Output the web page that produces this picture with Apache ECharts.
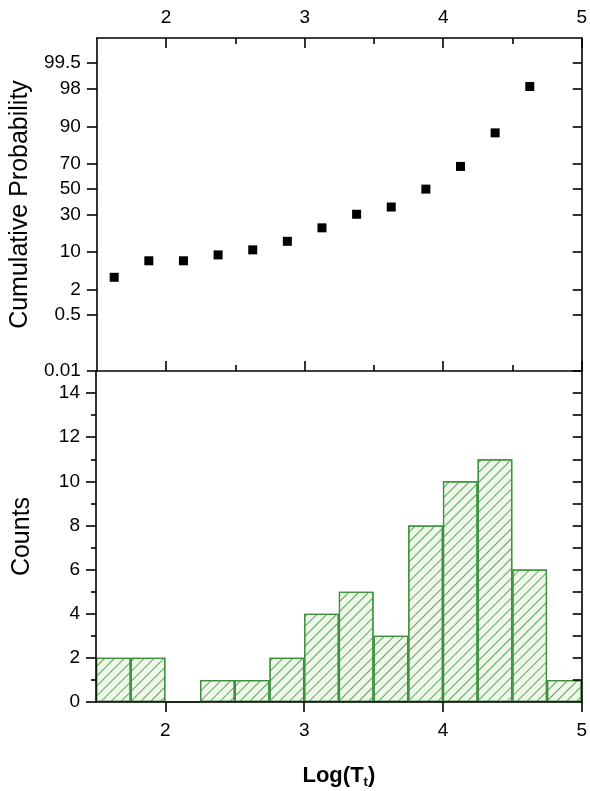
<!DOCTYPE html>
<html>
<head>
<meta charset="utf-8">
<script src="https://cdn.jsdelivr.net/npm/echarts@6/dist/echarts.min.js"></script>
<style>html,body{margin:0;padding:0;background:#fff}#c{width:590px;height:791px}</style>
</head>
<body>
<div id="c"></div>
<script>
// ---- data ----
const binStarts = [1.5, 1.75, 2, 2.25, 2.5, 2.75, 3, 3.25, 3.5, 3.75, 4, 4.25, 4.5, 4.75];
const counts = [2, 2, 0, 1, 1, 2, 4, 5, 3, 8, 10, 11, 6, 1];
const probX = [1.625, 1.875, 2.125, 2.375, 2.625, 2.875, 3.125, 3.375, 3.625, 3.875, 4.125, 4.375, 4.625];
const probPct = [3.57, 7.14, 7.14, 8.93, 10.71, 14.29, 21.43, 30.36, 35.71, 50.0, 67.86, 87.5, 98.21];
const probTickLabels = ['0.01', '0.5', '2', '10', '30', '50', '70', '90', '98', '99.5'];
const xTickLabels = [2, 3, 4, 5];
const xMinorTicks = [2.5, 3.5, 4.5];
const countTicks = [0, 2, 4, 6, 8, 10, 12, 14];
const countMinor = [1, 3, 5, 7, 9, 11, 13];
const countRight = [1, 2, 3, 4, 5, 6, 7, 8, 9, 10, 11, 12, 13, 14];

// inverse normal CDF (probability-scale transform)
function probit(p) {
  const a = [-3.969683028665376e+01, 2.209460984245205e+02, -2.759285104469687e+02, 1.383577518672690e+02, -3.066479806614716e+01, 2.506628277459239e+00];
  const b = [-5.447609879822406e+01, 1.615858368580409e+02, -1.556989798598866e+02, 6.680131188771972e+01, -1.328068155288572e+01];
  const c = [-7.784894002430293e-03, -3.223964580411365e-01, -2.400758277161838e+00, -2.549732539343734e+00, 4.374664141464968e+00, 2.938163982698783e+00];
  const d = [7.784695709041462e-03, 3.224671290700398e-01, 2.445134137142996e+00, 3.754408661907416e+00];
  const pl = 0.02425, ph = 1 - pl;
  let q, r;
  if (p < pl) { q = Math.sqrt(-2 * Math.log(p)); return (((((c[0]*q+c[1])*q+c[2])*q+c[3])*q+c[4])*q+c[5]) / ((((d[0]*q+d[1])*q+d[2])*q+d[3])*q+1); }
  if (p <= ph) { q = p - 0.5; r = q*q; return (((((a[0]*r+a[1])*r+a[2])*r+a[3])*r+a[4])*r+a[5])*q / (((((b[0]*r+b[1])*r+b[2])*r+b[3])*r+b[4])*r+1); }
  q = Math.sqrt(-2 * Math.log(1 - p)); return -(((((c[0]*q+c[1])*q+c[2])*q+c[3])*q+c[4])*q+c[5]) / ((((d[0]*q+d[1])*q+d[2])*q+d[3])*q+1);
}
const z = pct => probit(pct / 100);
const probTickVals = probTickLabels.map(s => z(parseFloat(s)));
const yMin = z(0.01), yMax = z(99.9);

const FONT = 'Liberation Sans, Arial, sans-serif';
const LBL = { color: '#000', fontSize: 19, fontFamily: FONT };
const LINE = { show: true, onZero: false, lineStyle: { color: '#000', width: 1.6 } };
const NOLINE = { show: false, onZero: false };
const TK = (len, inside) => ({ show: true, inside: inside, length: len, lineStyle: { color: '#000', width: 1.6 } });

const chart = echarts.init(document.getElementById('c'), null, { renderer: 'canvas' });
const gridL = 96, gridR = 6;
chart.setOption({
  backgroundColor: '#fff',
  animation: false,
  grid: [
    { left: gridL, right: gridR, top: 38, height: 333 },
    { left: gridL, right: gridR, top: 371, bottom: 89 }
  ],
  xAxis: [
    { type: 'value', gridIndex: 0, position: 'top', min: 1.5, max: 5,
      axisLine: LINE, axisTick: Object.assign(TK(10, true), { customValues: xTickLabels }),
      axisLabel: Object.assign({ margin: 11, customValues: xTickLabels, formatter: v => String(v) }, LBL),
      splitLine: { show: false } },
    { type: 'value', gridIndex: 0, position: 'top', min: 1.5, max: 5,
      axisLine: NOLINE, axisTick: Object.assign(TK(6, true), { customValues: xMinorTicks }),
      axisLabel: { show: false }, splitLine: { show: false } },
    { type: 'value', gridIndex: 0, position: 'bottom', min: 1.5, max: 5,
      axisLine: LINE, axisTick: Object.assign(TK(10, true), { customValues: xTickLabels }),
      axisLabel: { show: false }, splitLine: { show: false } },
    { type: 'value', gridIndex: 0, position: 'bottom', min: 1.5, max: 5,
      axisLine: NOLINE, axisTick: Object.assign(TK(6, true), { customValues: xMinorTicks }),
      axisLabel: { show: false }, splitLine: { show: false } },
    { type: 'category', gridIndex: 1, position: 'bottom', data: binStarts.map(String), boundaryGap: true, show: false },
    { type: 'value', gridIndex: 1, position: 'bottom', min: 1.5, max: 5, z: 5,
      axisLine: LINE, axisTick: Object.assign(TK(10, false), { customValues: xTickLabels }),
      axisLabel: Object.assign({ margin: 19, customValues: xTickLabels, formatter: v => String(v) }, LBL),
      splitLine: { show: false },
      name: '{b|Log(T}{s|t}{b|)}', nameLocation: 'middle', nameGap: 60,
      nameTextStyle: { rich: {
        b: { fontSize: 22, fontWeight: 'bold', fontFamily: FONT, color: '#000' },
        s: { fontSize: 13, fontWeight: 'bold', fontFamily: FONT, color: '#000', padding: [14, 0, 0, 0] }
      } } }
  ],
  yAxis: [
    { type: 'value', gridIndex: 0, position: 'left', min: yMin, max: yMax,
      axisLine: LINE, axisTick: Object.assign(TK(10, false), { customValues: probTickVals }),
      axisLabel: Object.assign({ margin: 16, customValues: probTickVals, formatter: v => {
        let best = 0, bd = Infinity;
        probTickVals.forEach((t, i) => { const dd = Math.abs(t - v); if (dd < bd) { bd = dd; best = i; } });
        return probTickLabels[best];
      } }, LBL),
      splitLine: { show: false },
      name: 'Cumulative Probability', nameLocation: 'middle', nameGap: 61, nameRotate: 90,
      nameTextStyle: { fontSize: 25, fontFamily: FONT, color: '#000' } },
    { type: 'value', gridIndex: 0, position: 'right', min: yMin, max: yMax,
      axisLine: LINE, axisTick: Object.assign(TK(9, true), { customValues: probTickVals }),
      axisLabel: { show: false }, splitLine: { show: false } },
    { type: 'value', gridIndex: 1, position: 'left', min: 0, max: 15, z: 5,
      axisLine: LINE, axisTick: Object.assign(TK(10, false), { customValues: countTicks }),
      axisLabel: Object.assign({ margin: 16, customValues: countTicks }, LBL),
      splitLine: { show: false },
      name: 'Counts', nameLocation: 'middle', nameGap: 61, nameRotate: 90,
      nameTextStyle: { fontSize: 25, fontFamily: FONT, color: '#000' } },
    { type: 'value', gridIndex: 1, position: 'left', min: 0, max: 15,
      axisLine: NOLINE, axisTick: Object.assign(TK(5, false), { customValues: countMinor }),
      axisLabel: { show: false }, splitLine: { show: false } },
    { type: 'value', gridIndex: 1, position: 'right', min: 0, max: 15, z: 5,
      axisLine: LINE, axisTick: Object.assign(TK(9, true), { customValues: countRight }),
      axisLabel: { show: false }, splitLine: { show: false } }
  ],
  series: [
    { type: 'scatter', xAxisIndex: 0, yAxisIndex: 0, symbol: 'rect', symbolSize: 9,
      itemStyle: { color: '#000', opacity: 1 },
      data: probX.map((x, i) => [x, z(probPct[i])]) },
    { type: 'bar', xAxisIndex: 4, yAxisIndex: 2, barCategoryGap: '0%', barGap: '0%',
      itemStyle: { color: '#eef7e9', borderColor: '#3d8f3d', borderWidth: 1.2,
        decal: { symbol: 'rect', symbolSize: 1, color: '#5da55d', dashArrayX: [1, 0], dashArrayY: [1, 6], rotation: -Math.PI / 4 } },
      data: counts }
  ]
});
</script>
</body>
</html>
